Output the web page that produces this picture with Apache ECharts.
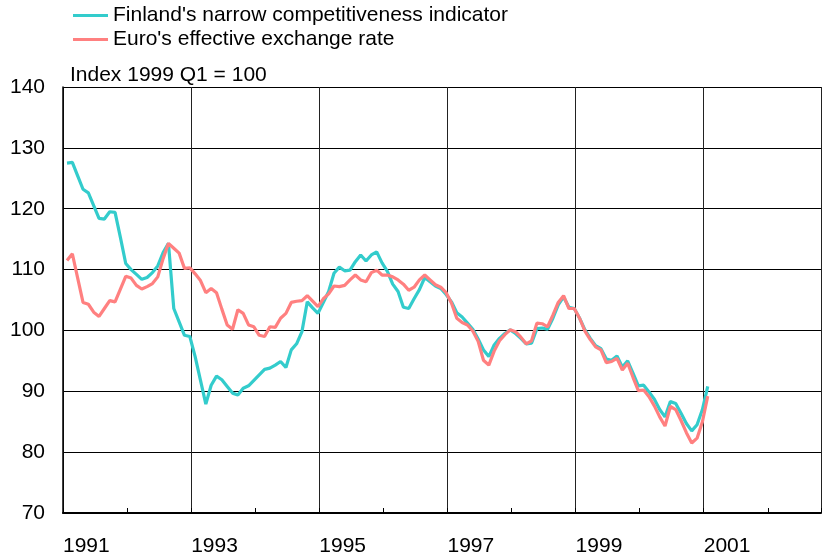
<!DOCTYPE html>
<html>
<head>
<meta charset="utf-8">
<script src="https://cdn.jsdelivr.net/npm/echarts@6/dist/echarts.min.js"></script>
<style>html,body{margin:0;padding:0;background:#fff}#c{width:824px;height:557px}</style>
</head>
<body>
<div id="c"></div>
<script>
// Monthly observations, Jan 1991 .. Jan 2001
const startYear = 1991;
const finland = [
127.5,127.6,125.4,123.2,122.6,120.5,118.4,118.3,119.5,119.4,115.3,111.0,
110.0,109.2,108.4,108.7,109.5,110.6,112.8,114.3,103.6,101.4,99.2,99.0,
95.7,91.8,87.9,91.0,92.5,91.9,90.8,89.7,89.4,90.5,90.9,91.8,
92.7,93.6,93.8,94.3,94.9,93.9,96.8,97.8,99.8,104.7,103.7,102.8,
104.6,106.4,109.4,110.4,109.8,109.9,111.3,112.4,111.4,112.4,112.9,111.1,
109.7,107.6,106.4,103.8,103.6,105.2,106.7,108.7,108.0,107.3,106.9,105.9,
104.7,102.9,102.2,101.2,100.2,98.6,96.8,95.7,97.6,98.7,99.5,100.1,
99.5,98.7,97.8,97.9,100.3,100.4,100.2,102.0,104.2,105.5,103.8,103.6,
102.0,100.1,98.7,97.5,97.0,95.3,95.1,95.8,94.0,95.0,93.0,90.9,
91.0,89.9,88.7,87.0,85.8,88.3,88.0,86.4,84.7,83.5,84.5,87.0,
90.8
];
const euro = [
111.5,112.6,108.6,104.6,104.3,103.0,102.3,103.6,104.9,104.7,106.8,108.9,
108.6,107.4,106.8,107.2,107.7,108.8,111.8,114.3,113.5,112.7,110.2,110.3,
109.3,108.2,106.2,106.9,106.2,103.5,100.9,100.2,103.4,102.8,100.9,100.6,
99.2,99.0,100.6,100.5,102.0,102.8,104.6,104.8,104.9,105.7,104.8,103.9,
105.2,106.0,107.3,107.2,107.4,108.3,109.1,108.3,108.0,109.5,109.9,109.1,
109.1,108.8,108.3,107.6,106.6,107.1,108.3,109.1,108.3,107.5,107.1,106.2,
104.5,102.0,101.3,100.9,99.9,98.2,95.1,94.3,96.6,98.3,99.3,100.1,
99.8,98.9,97.8,98.3,101.2,101.1,100.6,102.5,104.6,105.7,103.6,103.6,
102.0,99.9,98.5,97.3,96.8,94.7,94.9,95.4,93.5,94.6,92.3,90.1,
90.2,89.1,87.6,85.8,84.3,87.5,87.0,85.2,83.2,81.5,82.3,85.0,
89.2
];
const seriesNames = ["Finland's narrow competitiveness indicator", "Euro's effective exchange rate"];
const yearLabels = ['1991','1993','1995','1997','1999','2001'];
const unitNote = 'Index 1999 Q1 = 100';

// x position in years since start (month plotted near the end of its slot)
const toPoints = arr => arr.map((v, i) => [(i + 0.75) / 12, v]);

const FONT = "'Liberation Sans', Arial, sans-serif";
const chart = echarts.init(document.getElementById('c'), null, {renderer: 'canvas'});
chart.setOption({
  animation: false,
  backgroundColor: '#fff',
  textStyle: {fontFamily: FONT},
  legend: {
    orient: 'vertical', left: 73, top: 5, padding: 0, itemGap: 3,
    itemWidth: 35, itemHeight: 3, icon: 'rect',
    textStyle: {fontSize: 21, color: '#000', fontFamily: FONT},
    data: seriesNames
  },
  graphic: [{
    type: 'text', left: 70, top: 65,
    style: {text: unitNote, font: '21px ' + FONT, fill: '#000'}
  }],
  grid: {left: 63, right: 0, top: 87, bottom: 44, containLabel: false},
  xAxis: [{
    type: 'value', min: 0, max: 11.83, interval: 1,
    axisLine: {show: true, lineStyle: {color: '#000', width: 2}},
    axisTick: {show: true, inside: true, length: 5, lineStyle: {color: '#000', width: 1}},
    splitLine: {show: false},
    axisLabel: {
      show: true, fontSize: 21, color: '#000', margin: 23, align: 'left', fontFamily: FONT,
      formatter: v => {
        const y = startYear + Math.round(v);
        return (Math.abs(v - Math.round(v)) < 1e-6 && yearLabels.includes(String(y))) ? String(y) : '';
      }
    }
  }, {
    type: 'value', min: 0, max: 11.83, interval: 2, position: 'bottom',
    axisLine: {show: false}, axisTick: {show: false}, axisLabel: {show: false},
    splitLine: {show: true, lineStyle: {color: '#222', width: 1}}
  }],
  yAxis: {
    type: 'value', min: 70, max: 140, interval: 10,
    axisLine: {show: true, lineStyle: {color: '#000', width: 1.5}},
    axisTick: {show: false},
    splitLine: {show: true, lineStyle: {color: '#000', width: 1}},
    axisLabel: {fontSize: 21, color: '#000', margin: 18, fontFamily: FONT, padding: [2, 0, 0, 0]}
  },
  series: [{
    name: seriesNames[0], type: 'line', xAxisIndex: 0, data: toPoints(finland),
    showSymbol: false, symbol: 'none', lineStyle: {color: '#33CCCC', width: 3.2}, itemStyle: {color: '#33CCCC'}
  }, {
    name: seriesNames[1], type: 'line', xAxisIndex: 0, data: toPoints(euro),
    showSymbol: false, symbol: 'none', lineStyle: {color: '#FF8080', width: 3.2}, itemStyle: {color: '#FF8080'}
  }]
});
</script>
</body>
</html>
